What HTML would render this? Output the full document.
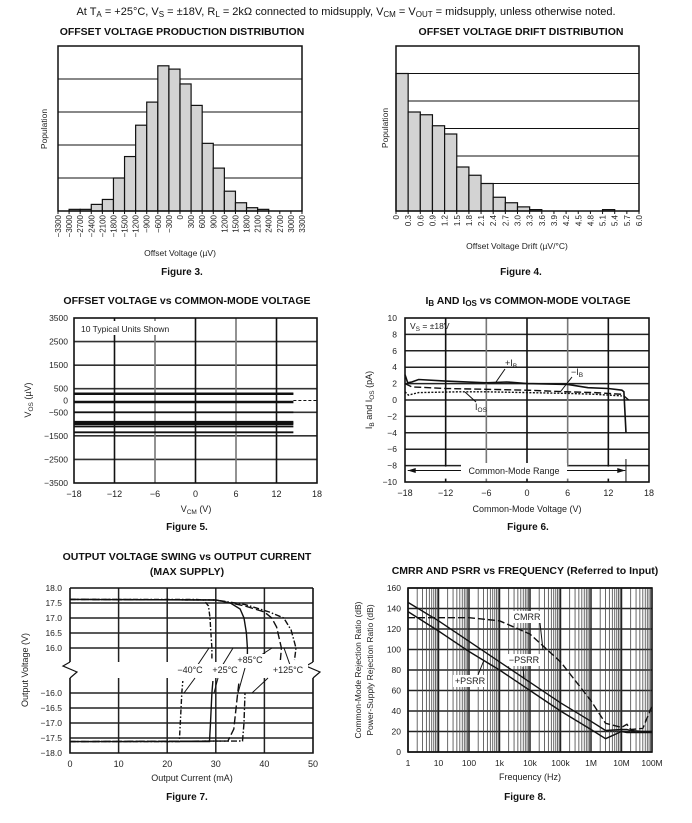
<!DOCTYPE html>
<html><head><meta charset="utf-8"><style>
html,body{margin:0;padding:0;background:#fff;}
svg{display:block;font-family:"Liberation Sans",Arial,sans-serif;}
.t{font-size:9px;fill:#222;}
.ti{font-size:10.5px;font-weight:bold;fill:#111;}
.fg{font-size:10px;font-weight:bold;fill:#111;}
</style></head><body>
<svg id="root" width="692" height="823" viewBox="0 0 692 823">
<text x="346" y="15" text-anchor="middle" font-size="11" fill="#111">At T<tspan font-size="8" dy="2">A</tspan><tspan dy="-2"> = +25°C, V</tspan><tspan font-size="8" dy="2">S</tspan><tspan dy="-2"> = ±18V, R</tspan><tspan font-size="8" dy="2">L</tspan><tspan dy="-2"> = 2kΩ connected to midsupply, V</tspan><tspan font-size="8" dy="2">CM</tspan><tspan dy="-2"> = V</tspan><tspan font-size="8" dy="2">OUT</tspan><tspan dy="-2"> = midsupply, unless otherwise noted.</tspan></text>
<text class="ti" x="182" y="35" text-anchor="middle">OFFSET VOLTAGE PRODUCTION DISTRIBUTION</text>
<text class="ti" x="521" y="35" text-anchor="middle">OFFSET VOLTAGE DRIFT DISTRIBUTION</text>
<text class="fg" x="182" y="275" text-anchor="middle">Figure 3.</text>
<text class="fg" x="521" y="275" text-anchor="middle">Figure 4.</text>
<text class="ti" x="187" y="304" text-anchor="middle">OFFSET VOLTAGE vs COMMON-MODE VOLTAGE</text>
<text class="ti" x="528" y="304" text-anchor="middle">I<tspan font-size="8" dy="2">B</tspan><tspan dy="-2"> AND I</tspan><tspan font-size="8" dy="2">OS</tspan><tspan dy="-2"> vs COMMON-MODE VOLTAGE</tspan></text>
<text class="fg" x="187" y="530" text-anchor="middle">Figure 5.</text>
<text class="fg" x="528" y="530" text-anchor="middle">Figure 6.</text>
<text class="ti" x="187" y="560" text-anchor="middle">OUTPUT VOLTAGE SWING vs OUTPUT CURRENT</text>
<text class="ti" x="187" y="575" text-anchor="middle">(MAX SUPPLY)</text>
<text class="ti" x="525" y="574" text-anchor="middle">CMRR AND PSRR vs FREQUENCY (Referred to Input)</text>
<text class="fg" x="187" y="800" text-anchor="middle">Figure 7.</text>
<text class="fg" x="525" y="800" text-anchor="middle">Figure 8.</text>
</svg>
<script>
// ---------- data ----------
const fig3Edges = [-3300,-3000,-2700,-2400,-2100,-1800,-1500,-1200,-900,-600,-300,0,300,600,900,1200,1500,1800,2100,2400,2700,3000,3300];
const fig3Counts = [0,1,1,4,7,20,33,52,66,88,86,77,64,41,26,12,5,2,1,0,0,0];
const fig4Edges = [0,0.3,0.6,0.9,1.2,1.5,1.8,2.1,2.4,2.7,3.0,3.3,3.6,3.9,4.2,4.5,4.8,5.1,5.4,5.7,6.0];
const fig4Counts = [50,36,35,31,28,16,13,10,5,3,1.5,0.5,0,0,0,0,0,0.5,0,0];
const fig5Ticks = [3500,2500,1500,500,0,-500,-1500,-2500,-3500];
const fig5Units = [300,270,-50,-80,-500,-900,-950,-1000,-1100,-1350];
const vcmTicks = [-18,-12,-6,0,6,12,18];
const fig6YTicks = [10,8,6,4,2,0,-2,-4,-6,-8,-10];
const ibPlusV = [-18,-17.6,-17,-16,-12,-6,-3,0,6,9,12,14,14.3,14.6];
const ibPlusI = [3.1,2.1,2.2,2.5,2.3,2.1,2.2,2.0,1.9,1.5,1.4,1.2,1.0,-4];
const ibMinusV = [-18,-17,-12,-6,0,6,10,14,15];
const ibMinusI = [2.0,1.6,1.4,1.3,1.2,1.0,0.9,0.7,0];
const iosV = [-18,-17.5,-16,-10,-6,0,6,10,14];
const iosI = [1.0,0.6,0.9,1.0,1.0,0.9,0.8,0.7,0.5];
const fig7XTicks = [0,10,20,30,40,50];
const fig7TopTicks = [18.0,17.5,17.0,16.5,16.0];
const fig7BotTicks = [-16.0,-16.5,-17.0,-17.5,-18.0];
const m40TopI=[0,26,27.5,28.5,28.8,29,29.2,29.2], m40TopV=[17.62,17.62,17.6,17.4,17,16.5,16,15.6];
const p25TopI=[0,30,33,35,35.8,36.3,36.5,36.5], p25TopV=[17.62,17.6,17.5,17.3,17,16.5,16,15.6];
const p85TopI=[0,30,36,40,41.5,42.5,43.5,43.3], p85TopV=[17.62,17.6,17.4,17.2,17,16.7,16,15.6];
const p125TopI=[0,30,36,41,44,45.5,46.5,46.2], p125TopV=[17.62,17.6,17.45,17.2,17,16.6,16,15.6];
const m40BotI=[0,22.5,22.7,23,23.2], m40BotV=[-17.62,-17.62,-17,-16,-15.6];
const p25BotI=[0,28.7,28.9,29.2,29.4], p25BotV=[-17.62,-17.62,-17,-16,-15.6];
const p85BotI=[0,32.5,33.7,34.5,34.8], p85BotV=[-17.62,-17.6,-17.2,-16,-15.6];
const p125BotI=[0,35.5,35.8,36], p125BotV=[-17.62,-17.6,-17,-16];
const fig8YTicks=[160,140,120,100,80,60,40,20,0];
const fig8XLabels=['1','10','100','1k','10k','100k','1M','10M','100M'];
const freq=[1,10,100,1e3,1e4,1e5,1e6,3e6,1e7,1.5e7,2e7,5e7,1e8];
const psrrPlus=[137,118,98,80,60,40,22,13,20,19,19,19,19];
const psrrMinus=[146,128,108,88,68,48,30,21,22,22,21,20,20];
const cmrr=[131,131,131,128,115,88,50,28,24,27,22,23,45];

// ---------- helpers ----------
const NS='http://www.w3.org/2000/svg';
const root=document.getElementById('root');
function mk(tag,attrs,parent){const e=document.createElementNS(NS,tag);for(const k in attrs)e.setAttribute(k,attrs[k]);(parent||root).appendChild(e);return e;}
function lin(d0,d1,r0,r1){return v=>r0+(v-d0)*(r1-r0)/(d1-d0);}
function txt(x,y,s,anchor,size,parent,rot){const e=mk('text',{x:x,y:y,'text-anchor':anchor||'middle','font-size':size||9,fill:'#222'},parent);if(rot)e.setAttribute('transform','rotate(-90 '+x+' '+y+')');e.textContent=s;return e;}
function path(pts,style,parent){let d='';pts.forEach((p,i)=>{d+=(i?'L':'M')+p[0].toFixed(1)+' '+p[1].toFixed(1);});return mk('path',Object.assign({d:d,fill:'none'},style),parent);}

// ---------- Figure 3 ----------
(function(){
const g=mk('g',{});


const X=lin(-3300,3300,58,302), Y=lin(0,100,211,46);
[20,40,60,80].forEach(v=>{const l=mk('line',{x1:58,x2:302,y1:Y(v),y2:Y(v),stroke:'#111','stroke-width':1},g);});
fig3Counts.forEach((c,i)=>{if(c<=0)return;const r=mk('rect',{x:X(fig3Edges[i]),y:Y(c),width:X(fig3Edges[i+1])-X(fig3Edges[i]),height:Y(0)-Y(c),fill:'#d3d3d3',stroke:'#111','stroke-width':1.2},g);});
const f=mk('rect',{x:58,y:46,width:244,height:165,fill:'none',stroke:'#111','stroke-width':1.5},g);
fig3Edges.forEach(v=>{mk('line',{x1:X(v),x2:X(v),y1:211,y2:214,stroke:'#111'},g);const t=txt(X(v)+3,215,(v<0?'\u2212':'')+Math.abs(v),'end',8,g,true);});
const xl=txt(180,256,'Offset Voltage (\u00b5V)','middle',8.5,g);
const yl=txt(47,129,'Population','middle',8.5,g,true);
})();

// ---------- Figure 4 ----------
(function(){
const g=mk('g',{});


const X=lin(0,6,396,639), Y=lin(0,60,211,46);
[10,20,30,40,50].forEach(v=>{const l=mk('line',{x1:396,x2:639,y1:Y(v),y2:Y(v),stroke:'#111','stroke-width':1},g);});
fig4Counts.forEach((c,i)=>{if(c<=0)return;const r=mk('rect',{x:X(fig4Edges[i]),y:Y(c),width:X(fig4Edges[i+1])-X(fig4Edges[i]),height:Y(0)-Y(c),fill:'#d3d3d3',stroke:'#111','stroke-width':1.2},g);});
const f=mk('rect',{x:396,y:46,width:243,height:165,fill:'none',stroke:'#111','stroke-width':1.5},g);
fig4Edges.forEach(v=>{mk('line',{x1:X(v),x2:X(v),y1:211,y2:214,stroke:'#111'},g);const t=txt(X(v)+3,215,v===0?'0':v.toFixed(1),'end',8,g,true);});
const xl=txt(517,249,'Offset Voltage Drift (\u00b5V/\u00b0C)','middle',8.5,g);
const yl=txt(388,128,'Population','middle',8.5,g,true);
})();

function vcmAxes(g,X,x0,x1,y0,y1,prefix){
  [-12,-6,0,6,12].forEach(v=>{const l=mk('line',{x1:X(v),x2:X(v),y1:y0,y2:y1,stroke:(v===-6||v===6)?'#777':'#111','stroke-width':1.6},g);});
  vcmTicks.forEach(v=>{const t=txt(X(v),y1+14,(v<0?'\u2212':'')+Math.abs(v),'middle',9,g);});
}

// ---------- Figure 5 ----------
(function(){
const g=mk('g',{});


const X=lin(-18,18,74,317), Y=lin(-3500,3500,483,318);
[2500,1500,500,-500,-1500,-2500].forEach(v=>{const l=mk('line',{x1:74,x2:317,y1:Y(v),y2:Y(v),stroke:'#333','stroke-width':1.6},g);});
vcmAxes(g,X,74,317,318,483,'fig5');
fig5Units.forEach(u=>{const l=mk('line',{x1:X(-18),x2:X(14.5),y1:Y(u),y2:Y(u),stroke:'#111','stroke-width':1.8},g);});
const dl=mk('line',{x1:X(14.5),x2:X(18),y1:Y(0),y2:Y(0),stroke:'#111','stroke-width':1,'stroke-dasharray':'3,2'},g);
const f=mk('rect',{x:74,y:318,width:243,height:165,fill:'none',stroke:'#111','stroke-width':1.6},g);
const lb=mk('rect',{x:78,y:321,width:95,height:14,fill:'#fff'},g);
const nt=txt(81,332,'10 Typical Units Shown','start',8.5,g);
fig5Ticks.forEach(v=>{const t=txt(68,Y(v)+3,(v<0?'\u2212':'')+Math.abs(v),'end',8.5,g);});
const xl=txt(196,512,'','middle',9,g);xl.innerHTML='V<tspan font-size="6.5" dy="2">CM</tspan><tspan dy="-2"> (V)</tspan>';
const yl=txt(31,400,'','middle',9,g,true);yl.innerHTML='V<tspan font-size="6.5" dy="2">OS</tspan><tspan dy="-2"> (\u00b5V)</tspan>';
})();

// ---------- Figure 6 ----------
(function(){
const g=mk('g',{});


const X=lin(-18,18,405,649), Y=lin(-10,10,482,318);
fig6YTicks.forEach(v=>{if(Math.abs(v)===10)return;const l=mk('line',{x1:405,x2:649,y1:Y(v),y2:Y(v),stroke:'#222','stroke-width':1.5},g);});
vcmAxes(g,X,405,649,318,482,'fig6');
const wb=mk('rect',{x:X(-17.5),y:Y(-8)+1,width:X(14)-X(-17.5),height:12,fill:'#fff'},g);
const p1=path(ibPlusV.map((v,i)=>[X(v),Y(ibPlusI[i])]),{stroke:'#111','stroke-width':1.6},g);
const p2=path(ibMinusV.map((v,i)=>[X(v),Y(ibMinusI[i])]),{stroke:'#111','stroke-width':1.4,'stroke-dasharray':'7,3'},g);
const p3=path(iosV.map((v,i)=>[X(v),Y(iosI[i])]),{stroke:'#111','stroke-width':1.4,'stroke-dasharray':'2,1.5'},g);
const f=mk('rect',{x:405,y:318,width:244,height:164,fill:'none',stroke:'#111','stroke-width':1.6},g);
const ar=mk('line',{x1:X(-17.6),x2:X(14.5),y1:Y(-8.6),y2:Y(-8.6),stroke:'#111','stroke-width':1},g);
mk('path',{d:`M${X(-17.6)} ${Y(-8.6)} l8 -2.5 v5 z`,fill:'#111'},g);
mk('path',{d:`M${X(14.5)} ${Y(-8.6)} l-8 -2.5 v5 z`,fill:'#111'},g);
mk('line',{x1:X(14.6),x2:X(14.6),y1:Y(-7.2),y2:Y(-10),stroke:'#111','stroke-width':1},g);
const rb=mk('rect',{x:461,y:463,width:106,height:13,fill:'#fff'},g);
const rl=txt(514,474,'Common-Mode Range','middle',9,g);
const vs=txt(410,329,'','start',8.5,g);vs.innerHTML='V<tspan font-size="6.5" dy="2">S</tspan><tspan dy="-2"> = \u00b118V</tspan>';
const a=txt(511,366,'','middle',9,g);a.innerHTML='+I<tspan font-size="6.5" dy="2">B</tspan>';
mk('line',{x1:505,y1:369,x2:496,y2:382,stroke:'#111'},g);
const b=txt(577,375,'','middle',9,g);b.innerHTML='\u2212I<tspan font-size="6.5" dy="2">B</tspan>';
mk('line',{x1:572,y1:377,x2:561,y2:391,stroke:'#111'},g);
const c=txt(481,410,'','middle',9,g);c.innerHTML='I<tspan font-size="6.5" dy="2">OS</tspan>';
mk('line',{x1:476,y1:402,x2:465,y2:392,stroke:'#111'},g);
fig6YTicks.forEach(v=>{const t=txt(397,Y(v)+3,(v<0?'\u2212':'')+Math.abs(v),'end',8.5,g);});
const xl=txt(527,512,'Common-Mode Voltage (V)','middle',9,g);
const yl=txt(372,400,'','middle',9,g,true);yl.innerHTML='I<tspan font-size="6.5" dy="2">B</tspan><tspan dy="-2"> and I</tspan><tspan font-size="6.5" dy="2">OS</tspan><tspan dy="-2"> (pA)</tspan>';
})();

// ---------- Figure 7 ----------
(function(){
const g=mk('g',{});


const X=lin(0,50,70,313);
const YT=v=>588+(18-v)*30, YB=v=>693+(-16-v)*30;
fig7TopTicks.slice(1).forEach(v=>{const l=mk('line',{x1:70,x2:313,y1:YT(v),y2:YT(v),stroke:'#222','stroke-width':1.5},g);});
fig7BotTicks.slice(0,4).forEach(v=>{const l=mk('line',{x1:70,x2:313,y1:YB(v),y2:YB(v),stroke:'#222','stroke-width':1.5},g);});
[10,20,30,40].forEach(v=>{mk('line',{x1:X(v),x2:X(v),y1:588,y2:662,stroke:'#222','stroke-width':1.5},g);const l=mk('line',{x1:X(v),x2:X(v),y1:678,y2:753,stroke:'#222','stroke-width':1.5},g);});
const sty={stroke:'#111','stroke-width':1.4};
const series=[
 ['fig7-m40',m40TopI,m40TopV,m40BotI,m40BotV,'5,2,1.5,2'],
 ['fig7-p25',p25TopI,p25TopV,p25BotI,p25BotV,''],
 ['fig7-p85',p85TopI,p85TopV,p85BotI,p85BotV,'8,3'],
 ['fig7-p125',p125TopI,p125TopV,p125BotI,p125BotV,'6,2,1.5,2']];
series.forEach(s=>{
 const st=Object.assign({},sty);if(s[5])st['stroke-dasharray']=s[5];
 const a=path(s[1].map((x,i)=>[X(x),YT(s[2][i])]),st,g);
 const b=path(s[3].map((x,i)=>[X(x),YB(s[4][i])]),st,g);
});
mk('path',{d:'M70 588 V662 M313 588 V662 M70 588 H313 M70 678 V753 H313 V678',fill:'none',stroke:'#111','stroke-width':1.6},g);
mk('path',{d:'M70 662 L63 666 L77 672 L70 678 M313 662 L306 666 L320 672 L313 678',fill:'none',stroke:'#111','stroke-width':1.2},g);
const labs=[['\u221240\u00b0C',190,673,197,666,209,648],['+25\u00b0C',225,673,222,666,233,648],['+85\u00b0C',250,663,258,657,272,648],['+125\u00b0C',288,673,290,665,284,648]];
labs.forEach(l=>{mk('line',{x1:l[3],y1:l[4],x2:l[5],y2:l[6],stroke:'#111'},g);const bg=mk('rect',{x:l[1]-20,y:l[2]-9,width:40,height:12,fill:'#fff'},g);const t=txt(l[1],l[2],l[0],'middle',9,g);});
mk('line',{x1:195,y1:678,x2:184,y2:693,stroke:'#111'},g);
mk('line',{x1:218,y1:678,x2:214,y2:693,stroke:'#111'},g);
mk('line',{x1:245,y1:668,x2:238,y2:693,stroke:'#111'},g);
mk('line',{x1:268,y1:678,x2:252,y2:693,stroke:'#111'},g);
fig7TopTicks.forEach(v=>{const t=txt(62,YT(v)+3,v.toFixed(1),'end',8.5,g);});
fig7BotTicks.forEach(v=>{const t=txt(62,YB(v)+3,'\u2212'+Math.abs(v).toFixed(1),'end',8.5,g);});
fig7XTicks.forEach(v=>{const t=txt(X(v),767,String(v),'middle',9,g);});
const xl=txt(192,781,'Output Current (mA)','middle',9,g);
const yl=txt(28,670,'Output Voltage (V)','middle',9,g,true);
})();

// ---------- Figure 8 ----------
(function(){
const g=mk('g',{});


const L=lin(0,8,408,652), X=f=>L(Math.log10(f)), Y=lin(0,160,752,588);
fig8YTicks.forEach(v=>{const l=mk('line',{x1:408,x2:652,y1:Y(v),y2:Y(v),stroke:'#222','stroke-width':1.5},g);});
for(let d=0;d<8;d++){for(let m=1;m<10;m++){const x=X(m*Math.pow(10,d));const l=mk('line',{x1:x,x2:x,y1:588,y2:752,stroke:m===1?'#222':'#444','stroke-width':m===1?1.5:0.8},g);}}
const a=path(freq.map((f,i)=>[X(f),Y(psrrPlus[i])]),{stroke:'#111','stroke-width':1.4},g);
const b=path(freq.map((f,i)=>[X(f),Y(psrrMinus[i])]),{stroke:'#111','stroke-width':1.4},g);
const c=path(freq.map((f,i)=>[X(f),Y(cmrr[i])]),{stroke:'#111','stroke-width':1.4,'stroke-dasharray':'7,3'},g);
const f=mk('rect',{x:408,y:588,width:244,height:164,fill:'none',stroke:'#111','stroke-width':1.6},g);
const labs=[['CMRR',527,620,540,623,543,650],['\u2212PSRR',524,663,523,667,524,678],['+PSRR',470,684,478,675,484,660]];
labs.forEach(l=>{mk('line',{x1:l[3],y1:l[4],x2:l[5],y2:l[6],stroke:'#111'},g);const bg=mk('rect',{x:l[1]-17,y:l[2]-9,width:34,height:12,fill:'#fff'},g);const t=txt(l[1],l[2],l[0],'middle',9,g);});
fig8YTicks.forEach(v=>{const t=txt(401,Y(v)+3,String(v),'end',8.5,g);});
fig8XLabels.forEach((s,i)=>{const t=txt(L(i),766,s,'middle',8.5,g);});
const xl=txt(530,780,'Frequency (Hz)','middle',9,g);
const y1=txt(361,670,'Common-Mode Rejection Ratio (dB)','middle',8.5,g,true);
const y2=txt(373,670,'Power-Supply Rejection Ratio (dB)','middle',8.5,g,true);
})();
</script>
</body></html>
